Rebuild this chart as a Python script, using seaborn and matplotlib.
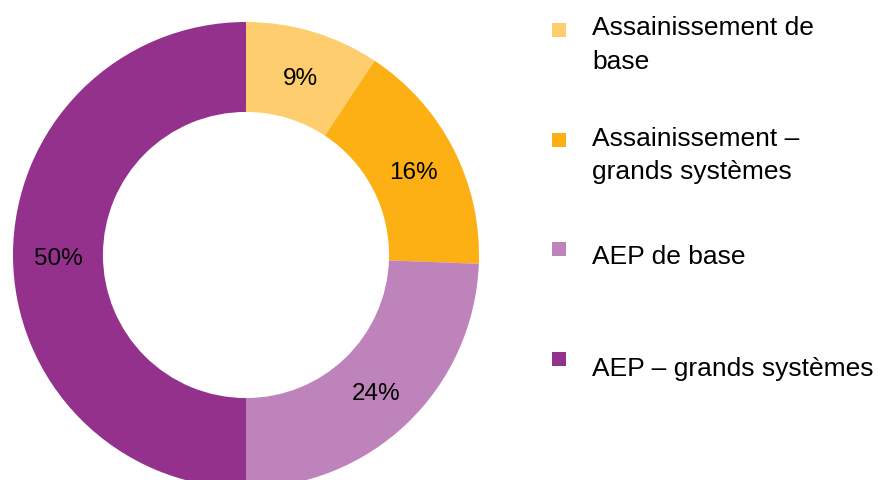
import matplotlib
matplotlib.use("Agg")
import matplotlib.pyplot as plt
import matplotlib.transforms as mtransforms
import seaborn as sns
from matplotlib.patches import Rectangle

sns.set_theme(style="white")
plt.rcParams['font.family'] = ['Liberation Sans', 'DejaVu Sans']

categories = ["Assainissement de\nbase",
              "Assainissement –\ngrands systèmes",
              "AEP de base",
              "AEP – grands systèmes"]
values = [9.3, 16.3, 24.4, 50.0]
colors = ["#FECE6E", "#FDB013", "#BF83BB", "#93318C"]

fig = plt.figure(figsize=(8.79, 4.81), dpi=100)
W, H = 879, 481
R = 233
cx, cy = 246, 256  # pixels from top-left
ax = fig.add_axes([(cx - R) / W, (H - cy - R) / H, 2 * R / W, 2 * R / H])
wedges, texts, autotexts = ax.pie(
    values, colors=colors, startangle=90, counterclock=False, radius=1,
    wedgeprops=dict(width=0.386, linewidth=0),
    autopct="%.0f%%", pctdistance=0.807,
    textprops=dict(fontsize=17.5, color="black"))
shift = mtransforms.offset_copy(ax.transData, fig=fig, x=0, y=-3, units="dots")
for t in autotexts:
    t.set_transform(shift)
ax.set_xlim(-1, 1)
ax.set_ylim(-1, 1)
ax.set_aspect("equal")
ax.axis("off")

# Legend (manual layout)
marker_centers = [31, 141, 250, 360]
line_baselines = [[35, 69], [146, 179], [264], [376]]
for lab, col, mc, bls in zip(categories, colors, marker_centers, line_baselines):
    s = 14
    fig.add_artist(Rectangle((552 / W, 1 - (mc + s / 2) / H), s / W, s / H,
                             transform=fig.transFigure, color=col, lw=0))
    for line, bl in zip(lab.split("\n"), bls):
        fig.text(592 / W, 1 - bl / H, line, fontsize=19, ha="left",
                 va="baseline", color="black")

fig.savefig("out.png", dpi=100)
